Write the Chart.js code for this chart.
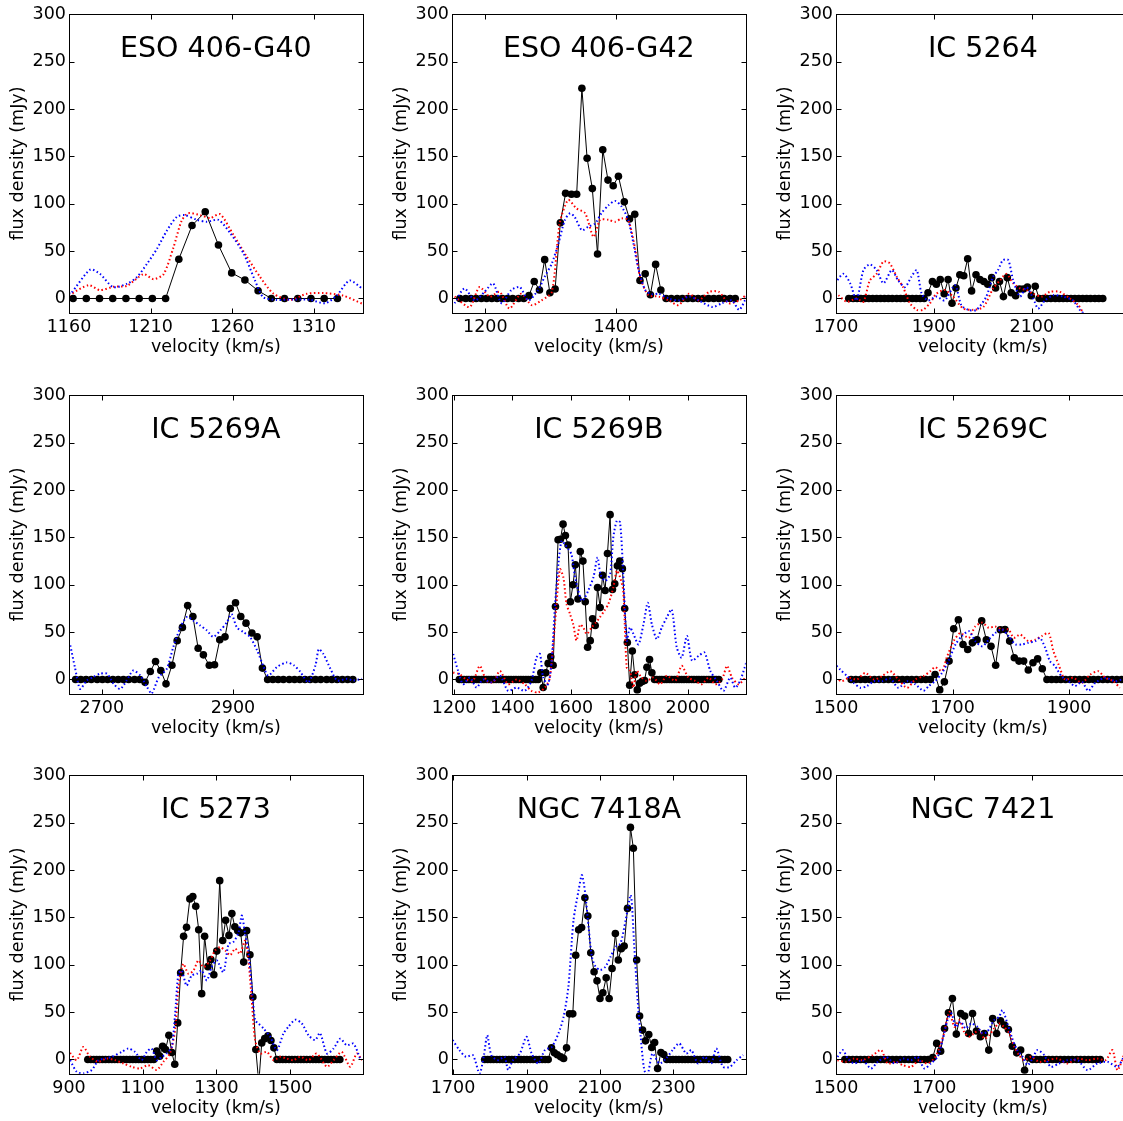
<!DOCTYPE html>
<html>
<head>
<meta charset="utf-8">
<script src="https://cdn.jsdelivr.net/npm/chart.js@4.4.1/dist/chart.umd.min.js"></script>
<style>
html, body { margin: 0; padding: 0; background: #fff; overflow: hidden; width: 1123px; height: 1121px; }
#panels { position: relative; width: 1123px; height: 1121px; overflow: hidden; }
#panels canvas { position: absolute; }
</style>
</head>
<body>
<div id="panels"></div>
<script>
// ---- data ----
const panelTitles = ['ESO 406-G40', 'ESO 406-G42', 'IC 5264', 'IC 5269A', 'IC 5269B', 'IC 5269C', 'IC 5273', 'NGC 7418A', 'NGC 7421'];
const yTicks = [0, 50, 100, 150, 200, 250, 300];
const yRange = [-15, 300];

// ESO 406-G40
const xRangeEso40 = [1160, 1340];
const xTicksEso40 = [1160, 1210, 1260, 1310];
const velEso40 = [1162.5,1170.6,1178.7,1186.8,1194.9,1203,1211.1,1219.2,1227.3,1235.4,1243.5,1251.6,1259.7,1267.8,1275.9,1284,1292.1,1300.2,1308.3,1316.4,1324.5];
const fluxEso40 = [0,0,0,0,0,0,0,0,41.5,77,91.5,56.4,27,19.5,8.2,0,0,0,0,0,0];
const blueVelEso40 = [1160,1161,1173,1179,1187,1195.5,1201.7,1207.8,1213.9,1220,1226.2,1231,1238.4,1244.5,1251.6,1258.8,1267,1274,1279,1287.4,1297.5,1307.7,1317,1324,1332,1340];
const blueFluxEso40 = [6,5,30.5,26,12,15.5,22.6,36.6,52.4,71.7,86.4,88,83,81,83,69,47.5,19,1.5,-1.5,-1,-1.4,-5,3,19,10];
const redVelEso40 = [1160,1172,1179,1187,1195.5,1205.7,1211.8,1218,1224,1229,1233,1240.4,1246.5,1252.6,1260.8,1269,1277,1285.3,1295.5,1305.7,1316,1328,1340];
const redFluxEso40 = [3.5,14,8.8,12.3,13.4,25.7,20.4,25.7,53.8,82,90,88,85,89,67,44,23,5,-1.4,5,5.7,3,-5.7];

// ESO 406-G42
const xRangeEso42 = [1149, 1599];
const xTicksEso42 = [1200, 1400];
const velEso42 = [1161,1170,1178,1186,1194,1202,1210,1218,1226,1234,
  1242,1251,1259,1267,1275,1283,1291,1299,1307,1315,
  1323,1332,1340,1348,1356,1364,1372,1380,1388,1396,
  1404,1413,1421,1429,1437,1445,1453,1461,1469,1477,
  1485,1494,1502,1510,1518,1526,1534,1542,1550,1558,
  1566,1575,1583];
const fluxEso42 = [0,0,0,0,0,0,0,0,0,0,0,0,0,
  3,18,9,41,6,10,80,111,110,110,222,148,116,47,157,125,119,129,102,84,89,19,26,4,36,9,
  0,0,0,0,0,0,0,0,0,0,0,0,0,0];
const blueVelEso42 = [1153,1168,1184,1199,1212,1225,1240,1253,1266,1281,1291,1302,1312,1322,1330,1337,1348,1358,1368,1378,1389,1399,1409,1419,1427,1435,1445,1455,1466,1481,1496,1512,1527,1548,1563,1578,1589,1601];
const blueFluxEso42 = [-5,10.6,-2,7,16,-5,9,12,-2,9,23,37,58,83,90,86,72,76,79,90,98.6,103,97,83,58,30,9,4.6,5,0,-2,2,-2,-9,-5,-2,-12,2.5];
const redVelEso42 = [1153,1176,1191,1207,1222,1237,1255,1271,1286,1302,1314,1327,1340,1353,1366,1376,1389,1399,1409,1419,1430,1437,1450,1466,1481,1496,1512,1527,1543,1558,1573,1589,1601];
const redFluxEso42 = [2,-9,12,2,7,-10.6,5,-7,-2,7,79,104,95,90,65,83,83,81,84.5,83,51,23,3.5,2,-2,-7,5,-2,7,7,-5,-2,4.6];

// IC 5264
const xRangeIc5264 = [1700, 2300];
const xTicksIc5264 = [1700, 1900, 2100];
const velIc5264 = [1726,1735,1743,1751,1759,1767,1775,1783,1791,1799,
  1807,1815,1824,1832,1840,1848,1856,1864,1872,1880,
  1888,1897,1905,1913,1921,1929,1937,1945,1953,1961,
  1969,1977,1986,1994,2002,2010,2018,2026,2034,2042,
  2050,2058,2067,2075,2083,2091,2099,2107,2115,2123,
  2131,2139,2148,2156,2164,2172,2180,2188,2196,2204,
  2212,2220,2229,2237,2245];
const fluxIc5264 = [0,0,0,0,0,0,0,0,0,0,0,0,0,0,0,0,0,0,0,0,
  6,18,15,20,5,20,-5,11,25,24,42,8,25,20,18,15,22,11,18,2,22,6,3,10,10,12,3,13,
  0,0,0,0,0,0,0,0,0,0,0,0,0,0,0,0,0];
const blueVelIc5264 = [1698,1715,1729,1742,1756,1769,1783,1797,1814,1827,1841,1854,1865,1875,1888,1905,1922,1943,1956,1970,1987,2007,2021,2031,2041,2052,2062,2076,2089,2103,2113,2127,2144,2164,2184,2198,2212,2222];
const blueFluxIc5264 = [16,26,16,-2,30,36,30,16,30,19,12,23,30,5,-2,2,-2,14,-7,-12,-12,2,23,30,40.5,40.5,19,2,12,0,-10.6,-2,3.5,2,-2,-12,-19,-30];
const redVelIc5264 = [1705,1722,1742,1756,1769,1783,1797,1810,1824,1837,1851,1865,1878,1892,1905,1922,1939,1960,1980,2001,2021,2035,2048,2062,2076,2089,2103,2120,2137,2157,2178,2195,2205,2215];
const redFluxIc5264 = [3.5,-3.5,0,-3.5,19,26,39,37,23,12,-5,-12,-12,-5,5,9,2,-10.6,-12,-9,10.6,19,26,16,10.6,9,5,2,7,7,0,-7,-16,-30];

// IC 5269A
const xRangeIc5269a = [2650, 3098];
const xTicksIc5269a = [2700, 2900];
const velIc5269a = [2660,2668,2676,2684,2693,2701,2709,2717,2725,2733,
  2741,2750,2758,2766,2774,2782,2790,2798,2807,2815,
  2823,2831,2839,2847,2855,2864,2872,2880,2888,2896,
  2904,2912,2920,2929,2937,2945,2953,2961,2969,2977,
  2986,2994,3002,3010,3018,3026,3034,3043,3051,3059,
  3067,3075,3083];
const fluxIc5269a = [0,0,0,0,0,0,0,0,0,0,0,0,0,
  -3,8.5,19,9.5,-4.6,15,41,55,78,66.5,33,26,15,15.5,42,45,75,81,66.5,59.5,49,45,12,
  0,0,0,0,0,0,0,0,0,0,0,0,0,0,0,0,0];
const blueVelIc5269a = [2652,2659,2667,2677,2687,2697,2708,2718,2728,2738,2748,2759,2769,2776,2787,2799,2809,2820,2830,2840,2850,2860,2870,2881,2891,2898,2906,2916,2926,2937,2947,2954,2967,2982,2993,3003,3015,3026,3031,3038,3049,3059,3074,3084,3097];
const blueFluxIc5269a = [36,13,-10,-1,2.5,6,6,-4.6,-10,-1,9.5,4,-8,-15,2.5,11,34,55,66,62,57,52,45,52,60.5,69,55,50,45,30.6,13,4,13,18,15,8,-3,15,32,27,11,-1,0.7,-1,0.7];
const redVelIc5269a = [];
const redFluxIc5269a = [];

// IC 5269B
const xRangeIc5269b = [1193, 2198];
const xTicksIc5269b = [1200, 1400, 1600, 1800, 2000];
const velIc5269b = [1218,1226,1234,1243,1251,1260,1268,1277,1285,1294,
  1302,1311,1319,1327,1336,1344,1353,1361,1370,1378,
  1387,1395,1404,1412,1421,1429,1437,1446,1454,1463,
  1471,1480,1488,1497,1505,1514,1522,1531,1539,1547,
  1556,1564,1573,1581,1590,1598,1607,1615,1624,1632,
  1641,1649,1657,1666,1674,1683,1691,1700,1708,1717,
  1725,1734,1742,1750,1759,1767,1776,1784,1793,1801,
  1810,1818,1827,1835,1844,1852,1860,1869,1877,1886,
  1894,1903,1911,1920,1928,1937,1945,1954,1962,1970,
  1979,1987,1996,2004,2013,2021,2030,2038,2047,2055,
  2064,2072,2080,2089,2097,2106];
const fluxIc5269b = [0,0,0,0,0,0,0,0,0,0,0,0,0,0,0,0,0,0,0,0,0,0,0,0,0,0,0,0,0,0,0,0,0,
  7,-8.5,7,17,24,15,
  77,147.5,148,164,152,142,82,100,121,85,135,125,82,34,41,64,57,97,76,110,
  94,133,174,95,101,120,125,117,75,39,-6,30,5,-11,-4,-2,-1,13,21,7,
  0,0,0,0,0,0,0,0,0,0,0,0,0,0,0,0,0,0,0,0,0,0,0,0,0,0,0];
const blueVelIc5269b = [1197,1214,1231,1254,1277,1299,1328,1357,1385,1414,1442,1465,1482,1494,1505,1522,1534,1545,1557,1568,1579,1591,1602,1614,1625,1637,1648,1659,1677,1691,1701,1717,1734,1745,1757,1768,1779,1791,1802,1814,1831,1848,1863,1877,1894,1911,1928,1945,1962,1979,1997,2014,2037,2057,2077,2099,2122,2145,2162,2179,2202];
const blueFluxIc5269b = [27,9,-5,2,-8.5,0,-3,4,-12,-8.5,-12,-1.4,23,27,2,-5,20,76,122,146.5,143,137.7,132,108,94,83,86.6,93.7,108,129,111,104,111,150,167.6,166,111,41,55,48,37,58,81,58,42.6,55,65.5,74,34,23,46,20,25,28.5,9,-1.4,-12,2,-8.5,-1.4,20];
const redVelIc5269b = [1197,1219,1242,1265,1288,1311,1334,1357,1385,1414,1442,1465,1488,1511,1528,1545,1562,1574,1585,1597,1608,1619,1631,1642,1654,1671,1685,1699,1714,1728,1745,1757,1768,1779,1791,1802,1814,1825,1842,1859,1882,1905,1928,1957,1979,2002,2025,2048,2071,2094,2117,2134,2151,2174,2197];
const redFluxIc5269b = [7.4,5.6,0,-1.4,14.4,-1.4,-3,9,-5,0,-5,-12,-13.7,-8.5,2,58,116.5,108,79.6,69,58,41,58,55,48,55,60,65.5,72.5,79.6,97,115,108,93.7,12.7,9,-8.5,9,2,-1.4,2,-5,4,-1.4,14.4,2,-1.4,-5,2,-5,0,14.4,2,-5,2];

// IC 5269C
const xRangeIc5269c = [1500, 2004];
const xTicksIc5269c = [1500, 1700, 1900];
const velIc5269c = [1526,1534,1542,1550,1558,1566,1574,1582,1590,1598,
  1606,1614,1622,1630,1638,1646,1654,1662,1670,1678,
  1686,1694,1702,1710,1718,1726,1734,1742,1750,1758,
  1766,1774,1782,1790,1798,1806,1814,1822,1830,1838,
  1846,1854,1862,1870,1878,1886,1894,1902,1910,1918,
  1926,1934,1942,1950,1958,1966,1974,1982,1990];
const fluxIc5269c = [0,0,0,0,0,0,0,0,0,0,0,0,0,0,0,0,0,0,
  5.3,-11,-2.5,19.4,53.5,63,37,31.7,38.7,42,62,42,35,15,52.5,52.8,40.5,23,19.4,19.4,10,17.6,21.8,11.3,
  0,0,0,0,0,0,0,0,0,0,0,0,0,0,0,0,0];
const blueVelIc5269c = [1496,1507,1519,1530,1542,1553,1565,1579,1593,1607,1622,1636,1650,1659,1670,1682,1693,1705,1716,1728,1739,1751,1762,1773,1785,1796,1808,1819,1830,1842,1850,1859,1867,1876,1887,1899,1910,1922,1933,1945,1962,1979,1990];
const blueFluxIc5269c = [17.6,10.6,3.5,-3.5,-8.8,-7,-1.8,-1.8,1,-8.8,-1.8,-5,-12,-7,-1.8,7,19.4,37,45.8,51,40.5,35,42,49,52.8,45.8,37,37,38.7,40.5,44,33.5,19.4,14,3.5,-1.8,-7,-2.5,-12,-3.5,1.8,-1.8,0];
const redVelIc5269c = [1499,1510,1522,1536,1550,1565,1579,1593,1607,1622,1636,1650,1662,1670,1682,1690,1702,1713,1728,1739,1751,1762,1773,1785,1796,1805,1816,1830,1842,1853,1865,1873,1882,1893,1907,1922,1936,1950,1962,1976,1987];
const redFluxIc5269c = [1.8,-1.8,1.8,0,7,0,3.5,8.8,0,-8.8,0,3.5,8.8,13,8.8,23,40.5,49,44,56,60,54.6,56,52.8,52.8,44,47.5,40.5,42,45.8,49,30,15.8,0,1.8,-3.5,5,8.8,1.8,-1.8,-8.8];

// IC 5273
const xRangeIc5273 = [900, 1697];
const xTicksIc5273 = [900, 1100, 1300, 1500];
const velIc5273 = [951,959,967,975,983,991,999,1008,1016,1024,
  1032,1040,1048,1056,1065,1073,1081,1089,1097,1105,
  1114,1122,1130,1138,1146,1154,1162,1171,1179,1187,
  1195,1203,1211,1219,1228,1236,1244,1252,1260,1268,
  1277,1285,1293,1301,1309,1317,1325,1334,1342,1350,
  1358,1366,1374,1382,1391,1399,1407,1415,1423,1431,
  1440,1448,1456,1464,1472,1480,1488,1497,1505,1513,
  1521,1529,1537,1545,1554,1562,1570,1578,1586,1594,
  1603,1611,1619,1627,1635];
const fluxIc5273 = [0,0,0,0,0,0,0,0,0,0,0,0,0,0,0,0,0,0,0,0,0,0,0,
  9,3.5,14,10.5,25.6,7.4,-5,38.6,91.6,130,139.6,169.5,172,161.8,137,69.5,130,98,105.6,89.5,
  114.4,188.8,125.6,147,131,154,140,136,133.7,102.8,136,110.5,66,10.5,-25,17.5,22,25,20,12.3,
  0,0,0,0,0,0,0,0,0,0,0,0,0,0,0,0,0,0,0,0,0,0];
const blueVelIc5273 = [903,921,939,962,980,998,1016,1043,1061,1079,1097,1111,1124,1138,1152,1165,1179,1188,1197,1206,1219,1233,1247,1260,1274,1287,1301,1319,1333,1346,1360,1369,1378,1387,1396,1405,1414,1428,1446,1464,1482,1495,1514,1532,1550,1568,1581,1600,1618,1636,1654,1672,1690];
const blueFluxIc5273 = [-0.7,-13,-14.7,-11,-0.7,1,2.8,8,11.6,8,-0.7,8,11.6,-0.7,2.8,6.3,13.3,48.4,90.5,94,78,88.8,90.5,94,83.5,97.5,104.6,92,122,124,134,152,132.6,115,76.5,41.4,38,32.6,24,9.8,27.4,34.4,42,38,25.6,20.4,28,6.3,11.6,22,15,16.8,1];
const redVelIc5273 = [903,921,939,957,980,1002,1025,1048,1070,1093,1115,1138,1156,1174,1188,1197,1210,1224,1238,1251,1265,1283,1296,1310,1324,1337,1351,1364,1378,1387,1396,1405,1419,1437,1455,1473,1491,1509,1527,1550,1572,1600,1618,1640,1663,1681,1695];
const redFluxIc5273 = [7,-0.7,13.3,2.8,-2.5,1,-0.7,-4.2,-7.7,-9.5,-6,-11,-2.5,6.3,31,76.5,101,90.5,94,104.6,97.5,104.6,115,118.6,115,110,117,111.6,125.6,104.6,62.5,20.4,6.3,8,-0.7,2.8,1,-0.7,2.8,-0.7,6.3,-7.7,-0.7,8,-7.7,6.3,-0.7];

// NGC 7418A
const xRangeNgc7418a = [1697, 2497];
const xTicksNgc7418a = [1700, 1900, 2100, 2300];
const velNgc7418a = [1786,1794,1802,1810,1819,1827,1835,1843,1852,1860,
  1868,1877,1885,1893,1901,1910,1918,1926,1935,1943,
  1951,1959,1968,1976,1984,1993,2001,2009,2017,2026,
  2034,2042,2050,2059,2067,2075,2084,2092,2100,2108,
  2117,2125,2133,2142,2150,2158,2166,2175,2183,2191,
  2200,2208,2216,2224,2233,2241,2249,2257,2266,2274,
  2282,2291,2299,2307,2315,2324,2332,2340,2349,2357,
  2365,2373,2382,2390,2398,2407,2415,2423,2431,2440,
  2448];
const fluxNgc7418a = [0,0,0,0,0,0,0,0,0,0,0,0,0,0,0,0,0,0,0,0,0,0,
  12.3,7,5,2.8,1,12.3,48.2,48.2,110,137,139.4,170.8,151.4,112.7,92.6,83,64.4,70.4,86.3,64.4,
  96,133,105,117,119.7,159.5,245,223,105,45.8,31,19.7,26.4,12.7,18,-9.5,7.4,5.3,
  0,0,0,0,0,0,0,0,0,0,0,0,0,0,0,0,0,0,0,0,0];
const blueVelNgc7418a = [1699,1717,1735,1754,1772,1784,1793,1804,1822,1840,1850,1863,1882,1900,1914,1932,1950,1969,1987,2001,2014,2028,2042,2051,2060,2069,2078,2088,2101,2115,2129,2143,2156,2170,2184,2193,2202,2211,2220,2229,2243,2262,2280,2298,2316,2335,2349,2367,2385,2403,2417,2435,2454,2472,2490];
const blueFluxNgc7418a = [20.4,10,2.8,4.6,-14.8,4.6,25.7,4.6,-0.7,2.8,-11,-0.7,6.3,24,6.3,-4.2,10,13.4,27.5,45,76.8,147,179,194.7,175,140,108.5,98,94.4,98,108.5,119,122.5,147,173.6,122.5,66,24,-9.5,-18,6.3,-4.2,1,10,17,6.3,10,-4.2,2.8,-4.2,11.6,-7.7,-7.7,-0.7,4.6];
const redVelNgc7418a = [];
const redFluxNgc7418a = [];

// NGC 7421
const xRangeNgc7421 = [1500, 2098];
const xTicksNgc7421 = [1500, 1700, 1900];
const velNgc7421 = [1518,1526,1534,1542,1550,1558,1566,1574,1583,1591,
  1599,1607,1615,1623,1631,1640,1648,1656,1664,1672,
  1680,1688,1697,1705,1713,1721,1729,1737,1745,1754,
  1762,1770,1778,1786,1794,1802,1811,1819,1827,1835,
  1843,1851,1859,1868,1876,1884,1892,1900,1908,1916,
  1925,1933,1941,1949,1957,1965,1973,1981,1990,1998,
  2006,2014,2022,2030,2038];
const fluxNgc7421 = [0,0,0,0,0,0,0,0,0,0,0,0,0,0,0,0,0,0,0,0,0,0,
  2,17,8.8,32.7,49.3,64.4,26.8,48.6,45.8,27.5,48.6,30,24,27.5,9.9,43.3,27.5,40.8,36.3,31.7,14,7,9.9,-11.3,2,
  0,0,0,0,0,0,0,0,0,0,0,0,0,0,0,0,0,0];
const blueVelNgc7421 = [1503,1514,1524,1537,1554,1571,1585,1602,1619,1636,1653,1666,1680,1693,1707,1717,1727,1735,1744,1754,1764,1775,1788,1798,1808,1822,1832,1839,1849,1859,1869,1880,1890,1900,1910,1924,1937,1954,1971,1992,2012,2032,2053,2073,2086];
const blueFluxNgc7421 = [2.8,9.9,1,-4.2,-0.7,-9.5,-2.5,2.8,-4.2,1,-0.7,2.8,-9.5,-4.2,2.8,20.4,41.5,48.6,34.5,39.8,32.7,38,34.5,27.5,29.2,41.5,45,52,38,22,9.9,2.8,-6,1,9.9,4.6,-7.7,-4.2,-0.7,-0.7,-11.3,-4.2,-2.5,-7.7,2.8];
const redVelNgc7421 = [1503,1520,1537,1554,1575,1592,1605,1622,1636,1653,1669,1686,1700,1710,1720,1731,1741,1751,1761,1771,1781,1792,1802,1812,1822,1832,1842,1853,1863,1873,1883,1897,1914,1931,1951,1971,1992,2012,2032,2049,2063,2073,2086];
const redFluxNgc7421 = [-0.7,-2.5,1,-0.7,4.6,9.9,-4.2,-2.5,-6,-7.7,-0.7,-4.2,1,11.6,27.5,50.3,34.5,41.5,29.2,24,27.5,31,22,25.7,32.7,38,34.5,27.5,13.4,4.6,-0.7,2.8,-2.5,-0.7,1,-4.2,1,-0.7,1,-0.7,9.9,-11.3,4.6];

// ---- layout ----
const colLeft = [0, 383.3, 766.6];
const rowTop = [0, 380.5, 761];
const canvasW = 383;
const canvasH = 380;

Chart.defaults.font.family = '"DejaVu Sans", "Liberation Sans", sans-serif';
Chart.defaults.font.size = 17.5;
Chart.defaults.color = '#000';

const panels = [
  [velEso40, fluxEso40, blueVelEso40, blueFluxEso40, redVelEso40, redFluxEso40, xRangeEso40, xTicksEso40],
  [velEso42, fluxEso42, blueVelEso42, blueFluxEso42, redVelEso42, redFluxEso42, xRangeEso42, xTicksEso42],
  [velIc5264, fluxIc5264, blueVelIc5264, blueFluxIc5264, redVelIc5264, redFluxIc5264, xRangeIc5264, xTicksIc5264],
  [velIc5269a, fluxIc5269a, blueVelIc5269a, blueFluxIc5269a, redVelIc5269a, redFluxIc5269a, xRangeIc5269a, xTicksIc5269a],
  [velIc5269b, fluxIc5269b, blueVelIc5269b, blueFluxIc5269b, redVelIc5269b, redFluxIc5269b, xRangeIc5269b, xTicksIc5269b],
  [velIc5269c, fluxIc5269c, blueVelIc5269c, blueFluxIc5269c, redVelIc5269c, redFluxIc5269c, xRangeIc5269c, xTicksIc5269c],
  [velIc5273, fluxIc5273, blueVelIc5273, blueFluxIc5273, redVelIc5273, redFluxIc5273, xRangeIc5273, xTicksIc5273],
  [velNgc7418a, fluxNgc7418a, blueVelNgc7418a, blueFluxNgc7418a, redVelNgc7418a, redFluxNgc7418a, xRangeNgc7418a, xTicksNgc7418a],
  [velNgc7421, fluxNgc7421, blueVelNgc7421, blueFluxNgc7421, redVelNgc7421, redFluxNgc7421, xRangeNgc7421, xTicksNgc7421]
];

function pontos(vel, flux) {
    if (vel.length != flux.length) console.warn('length mismatch', vel.length, flux.length);
    return vel.map((v, i) => ({x: v, y: flux[i]}));
}

// box round the axes, inward ticks on all four sides, name of the galaxy inside
const moldura = {
    id: 'moldura',
    afterDatasetsDraw(chart, args, opts) {
        const ctx = chart.ctx;
        const a = chart.chartArea;
        const sx = chart.scales.x, sy = chart.scales.y;
        const l = Math.round(a.left) + 0.5, r = Math.round(a.right) + 0.5;
        const t = Math.round(a.top) + 0.5, b = Math.round(a.bottom) + 0.5;
        ctx.save();
        ctx.strokeStyle = '#000';
        ctx.lineWidth = 1;
        ctx.strokeRect(l, t, r - l, b - t);
        ctx.beginPath();
        sx.ticks.forEach(tk => {
            const px = Math.round(sx.getPixelForValue(tk.value)) + 0.5;
            ctx.moveTo(px, b); ctx.lineTo(px, b - 5);
            ctx.moveTo(px, t); ctx.lineTo(px, t + 5);
        });
        sy.ticks.forEach(tk => {
            const py = Math.round(sy.getPixelForValue(tk.value)) + 0.5;
            ctx.moveTo(l, py); ctx.lineTo(l + 5, py);
            ctx.moveTo(r, py); ctx.lineTo(r - 5, py);
        });
        ctx.stroke();
        ctx.fillStyle = '#000';
        ctx.font = '28.5px "DejaVu Sans"';
        ctx.textAlign = 'center';
        ctx.textBaseline = 'alphabetic';
        ctx.fillText(opts.text, (a.left + a.right) / 2, a.top + 42.5);
        ctx.restore();
    }
};

function dotted(vel, flux, cor) {
    return {
        data: pontos(vel, flux),
        borderColor: cor,
        borderWidth: 2,
        borderDash: [1.5, 2.5],
        borderCapStyle: 'butt',
        pointRadius: 0,
        tension: 0.25,
        clip: 0
    };
}

function renderizaPainel(p, idx) {
    const [vel, flux, bVel, bFlux, rVel, rFlux, xRange, xTicks] = p;
    const canvas = document.createElement('canvas');
    canvas.width = canvasW;
    canvas.height = canvasH;
    canvas.style.width = canvasW + 'px';
    canvas.style.height = canvasH + 'px';
    canvas.style.left = colLeft[idx % 3] + 'px';
    canvas.style.top = rowTop[Math.floor(idx / 3)] + 'px';
    document.getElementById('panels').appendChild(canvas);

    const datasets = [dotted(bVel, bFlux, '#0000ff')];
    if (rVel.length) datasets.push(dotted(rVel, rFlux, '#ff0000'));
    datasets.push({
        data: pontos(vel, flux),
        borderColor: '#000',
        borderWidth: 1,
        pointRadius: 3.8,
        pointBorderWidth: 0,
        pointBackgroundColor: '#000',
        tension: 0,
        clip: 0
    });

    new Chart(canvas.getContext('2d'), {
        type: 'line',
        data: { datasets: datasets },
        options: {
            responsive: false,
            animation: false,
            events: [],
            layout: { autoPadding: false, padding: { top: 14.3, right: canvasW - 362.7, left: 0, bottom: 0 } },
            plugins: {
                legend: { display: false },
                tooltip: { enabled: false },
                moldura: { text: panelTitles[idx] }
            },
            scales: {
                x: {
                    type: 'linear',
                    min: xRange[0],
                    max: xRange[1],
                    grid: { display: false, drawTicks: false },
                    border: { display: false },
                    ticks: { padding: 4, maxRotation: 0, autoSkip: false, callback: v => String(v) },
                    afterBuildTicks: s => { s.ticks = xTicks.map(v => ({ value: v })); },
                    afterFit: s => { s.height = canvasH - 312.7; },
                    title: { display: true, text: 'velocity (km/s)', padding: { top: 0, bottom: 22 } }
                },
                y: {
                    type: 'linear',
                    min: yRange[0],
                    max: yRange[1],
                    grid: { display: false, drawTicks: false },
                    border: { display: false },
                    ticks: { padding: 3, autoSkip: false, callback: v => String(v) },
                    afterBuildTicks: s => { s.ticks = yTicks.map(v => ({ value: v })); },
                    afterFit: s => { s.width = 69; },
                    title: { display: true, text: 'flux density (mJy)', padding: { top: 8, bottom: 0 } }
                }
            }
        },
        plugins: [moldura]
    });
}

panels.forEach(renderizaPainel);
</script>
</body>
</html>
